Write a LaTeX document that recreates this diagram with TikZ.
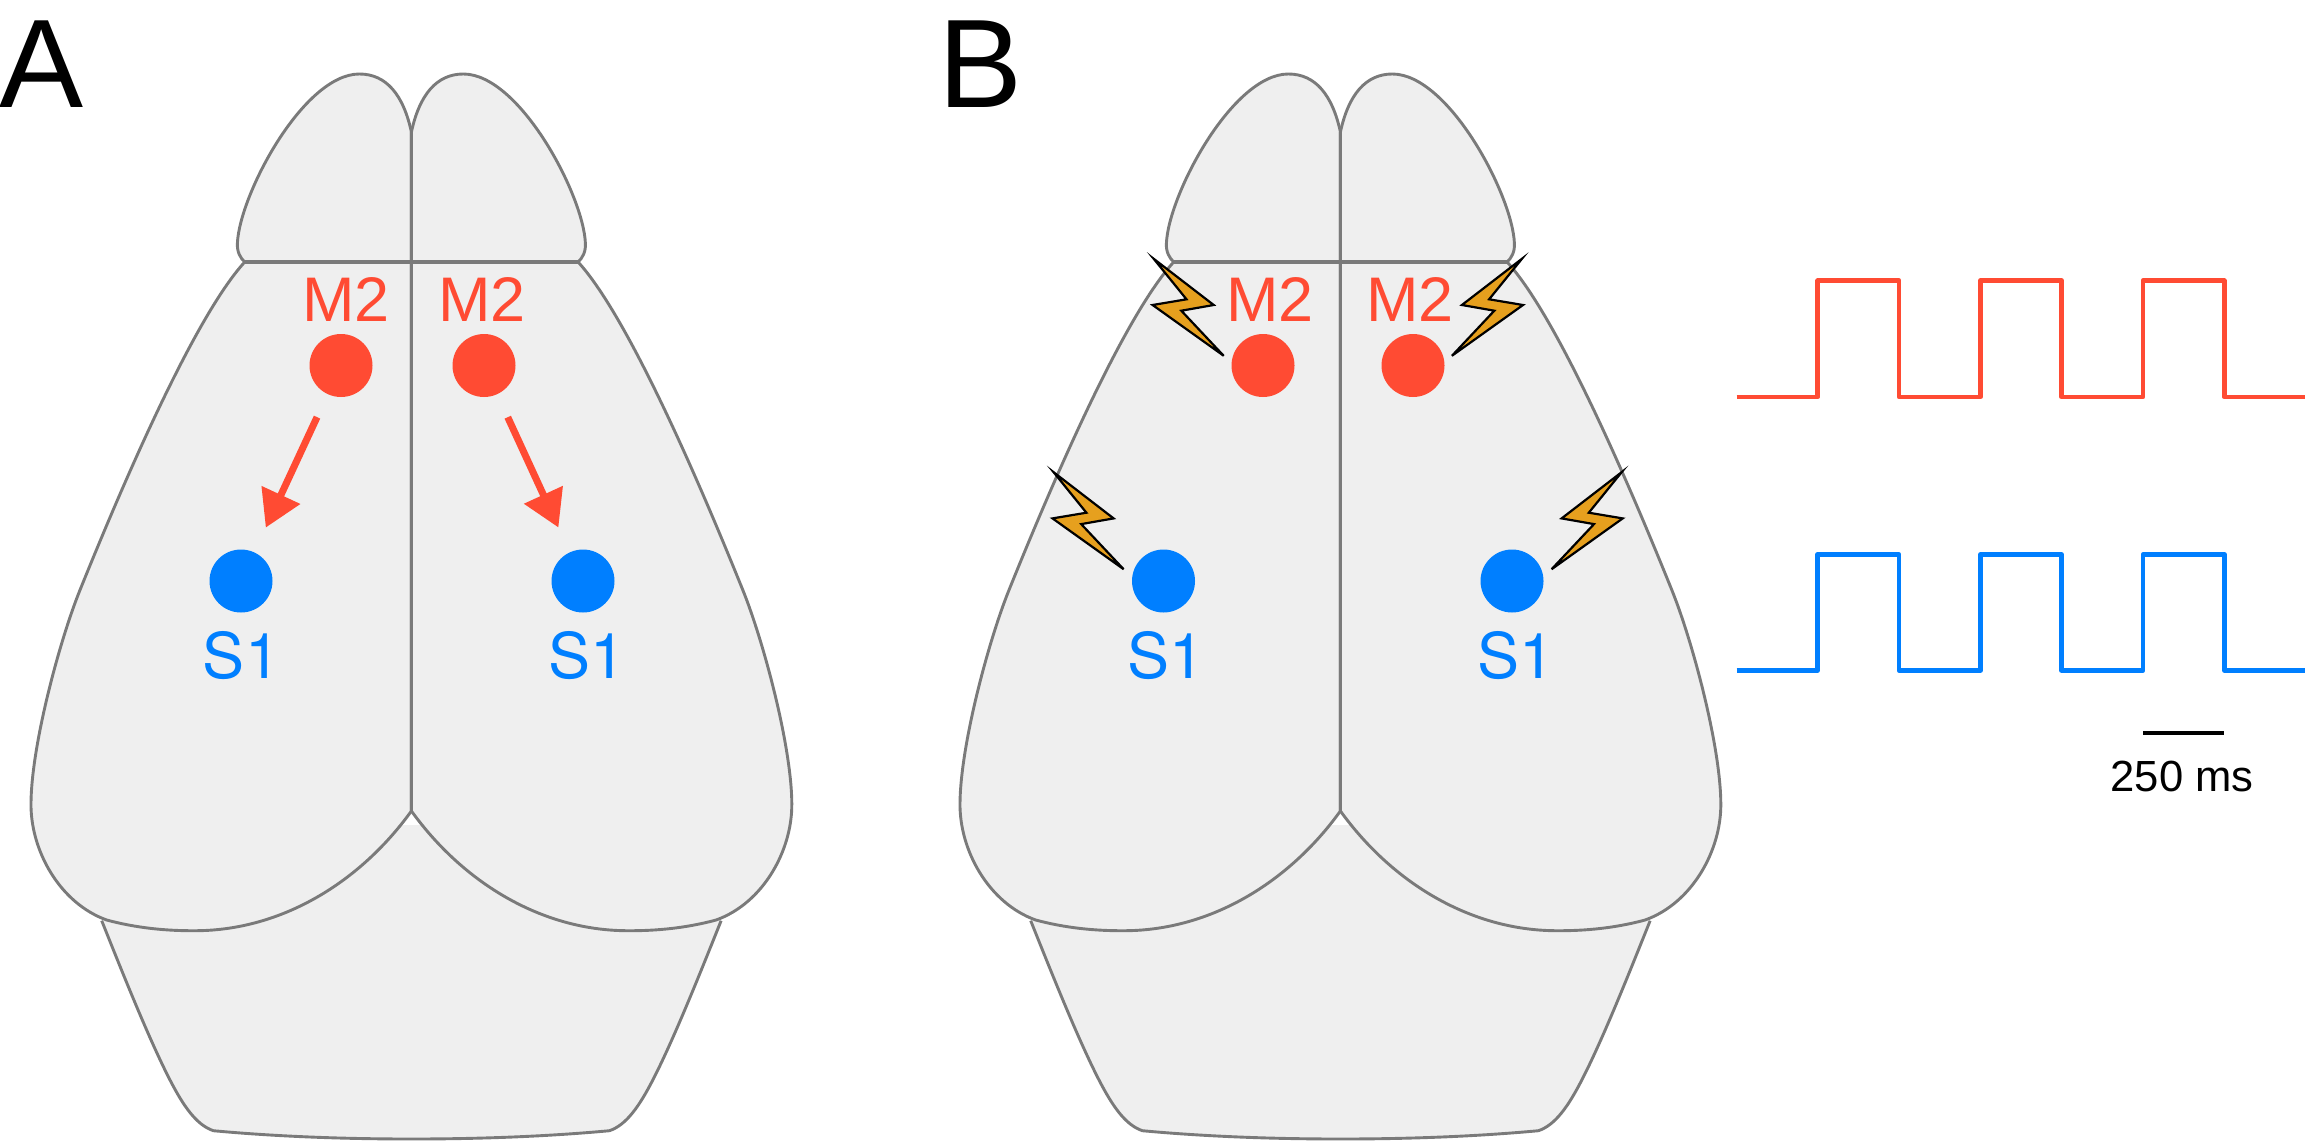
\documentclass[tikz,border=0pt]{standalone}
\usepackage{fontspec}
\setmainfont{Liberation Sans}
\newfontfamily\areafont{TeX Gyre Heros}
\usetikzlibrary{arrows.meta}
\definecolor{brainfill}{HTML}{EFEFEF}
\definecolor{brainline}{HTML}{7A7A7A}
\definecolor{motorred}{HTML}{FF4B33}
\definecolor{sensoryblue}{HTML}{007FFF}
\definecolor{boltfill}{HTML}{E6A01E}
\tikzset{
  x=.5pt, y=-.5pt,
  outline/.style={draw=brainline, fill=brainfill, line width=1.45pt, line join=round},
  brain/.pic={
    % hindbrain, open along its top edge
    \filldraw[outline] (-309.7,920.7)
      .. controls (-288,975) and (-262,1040) .. (-241.4,1080)
      .. controls (-228,1106) and (-215,1125) .. (-198,1130.7)
      .. controls (-130,1137) and (-60,1139) .. (0,1139)
      .. controls (60,1139) and (130,1137) .. (198,1130.7)
      .. controls (215,1125) and (228,1106) .. (241.4,1080)
      .. controls (262,1040) and (288,975) .. (309.7,920.7);
    \fill[brainfill] (-200,825) rectangle (200,925);
    \foreach \side in {1,-1} {
      \begin{scope}[xscale=\side]
        % cortical hemisphere
        \filldraw[outline] (-166.7,262)
          .. controls (-215,315) and (-283,470) .. (-331.4,590)
          .. controls (-351.6,640) and (-380,745) .. (-380.4,803.3)
          .. controls (-381,850) and (-352,903) .. (-304.7,920)
          .. controls (-275,928) and (-245,931) .. (-214.7,930.7)
          .. controls (-130,930) and (-52,883) .. (0,811)
          -- (0,262) -- cycle;
        % olfactory bulb
        \filldraw[outline] (0,132)
          .. controls (-8,95) and (-25,74) .. (-52,74)
          .. controls (-108,74) and (-172,195) .. (-174,243.3)
          .. controls (-174.5,252) and (-171,258) .. (-166.7,262)
          -- (0,262) -- cycle;
      \end{scope}
    }
    \draw[brainline, line width=1.4pt] (0,132) -- (0,811);
    \draw[brainline, line width=1.7pt] (-166.7,262) -- (166.7,262);
  },
  bolt/.pic={
    \filldraw[fill=boltfill, draw=black, line width=1.1pt, miter limit=10]
      (5,4.5) -- (65,50.7) -- (32.6,56.4) -- (75,101.5) -- (3.9,50.7) -- (37.8,45) -- cycle;
  },
  site/.style={circle, minimum size=31.5pt, inner sep=0pt, draw=none},
  m2site/.style={site, fill=motorred},
  s1site/.style={site, fill=sensoryblue},
  arealabel/.style={anchor=base, inner sep=0pt, font=\fontsize{31.5}{36}\selectfont},
  m2label/.style={arealabel, text=motorred},
  s1label/.style={arealabel, text=sensoryblue, font=\areafont\fontsize{31.5}{36}\selectfont},
  panel/.style={anchor=base, inner sep=0pt, font=\fontsize{63}{70}\selectfont},
  projection/.style={draw=motorred, line width=3.5pt,
    -{Triangle[length=18pt, width=20.5pt, fill=motorred]},
    shorten <=25pt*.5, shorten >=27pt*.5},
  pulse/.style={line width=2.3pt, line join=round},
}
\begin{document}
\begin{tikzpicture}
  \useasboundingbox (0,0) rectangle (2305,1140);

  \pic at (411.4,0) {brain};
  \pic at (1340.4,0) {brain};

  % panel letters
  \node[panel] (panelA) at (42,107) {A};
  \node[panel] (panelB) at (981,107) {B};

  % panel A: sites and projections
  \node[m2site] (m2la) at (341,365.5) {};
  \node[m2site] (m2ra) at (484,365.5) {};
  \node[s1site] (s1la) at (241,581) {};
  \node[s1site] (s1ra) at (583,581) {};
  \node[m2label] (m2lta) at (346,321) {M2};
  \node[m2label] (m2rta) at (482,321) {M2};
  \node[s1label] (s1lta) at (241.5,678) {S1};
  \node[s1label] (s1rta) at (587,678) {S1};
  \draw[projection] (m2la) -- (s1la);
  \draw[projection] (m2ra) -- (s1ra);

  % panel B: sites and stimulation marks
  \node[m2site] (m2lb) at (1263,365.5) {};
  \node[m2site] (m2rb) at (1413,365.5) {};
  \node[s1site] (s1lb) at (1163.5,581) {};
  \node[s1site] (s1rb) at (1512,581) {};
  \node[m2label] (m2ltb) at (1270,321) {M2};
  \node[m2label] (m2rtb) at (1410,321) {M2};
  \node[s1label] (s1ltb) at (1166,678) {S1};
  \node[s1label] (s1rtb) at (1516,678) {S1};
  \pic at (1148.7,254.3) {bolt};
  \pic[xscale=-1] at (1526.9,254.3) {bolt};
  \pic at (1048.6,467.7) {bolt};
  \pic[xscale=-1] at (1626.6,467.7) {bolt};

  % stimulation trains
  \draw[pulse, motorred] (1736.6,396.9) -- (1817.7,396.9) -- (1817.7,280.7) -- (1899,280.7)
    -- (1899,396.9) -- (1980.5,396.9) -- (1980.5,280.7) -- (2061.5,280.7)
    -- (2061.5,396.9) -- (2143,396.9) -- (2143,280.7) -- (2224.3,280.7)
    -- (2224.3,396.9) -- (2305,396.9);
  \draw[pulse, sensoryblue] (1736.6,670.3) -- (1817.7,670.3) -- (1817.7,554.5) -- (1899,554.5)
    -- (1899,670.3) -- (1980.5,670.3) -- (1980.5,554.5) -- (2061.5,554.5)
    -- (2061.5,670.3) -- (2143,670.3) -- (2143,554.5) -- (2224.3,554.5)
    -- (2224.3,670.3) -- (2305,670.3);

  % time scale bar
  \coordinate (barL) at (2143,732.8);
  \coordinate (barR) at (2224.3,732.8);
  \draw[black, line width=2.2pt] (barL) -- (barR);
  \node[anchor=base, inner sep=0pt, font=\fontsize{21.8}{26}\selectfont] (barlabel) at (2182,791) {250 ms};
\end{tikzpicture}
\end{document}
